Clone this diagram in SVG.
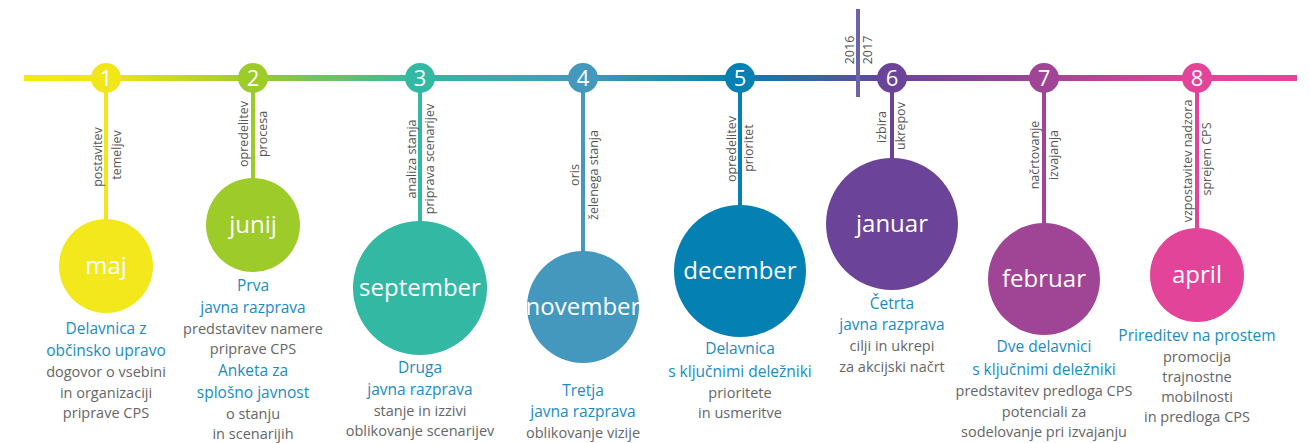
<svg xmlns="http://www.w3.org/2000/svg" width="1310" height="443" viewBox="0 0 1310 443">
<defs>
<linearGradient id="tl" gradientUnits="userSpaceOnUse" x1="24" y1="0" x2="1297" y2="0">
<stop offset="0" stop-color="#f5ea10"/>
<stop offset="0.064" stop-color="#f0e61a"/>
<stop offset="0.179" stop-color="#9ccb2a"/>
<stop offset="0.311" stop-color="#33b8a3"/>
<stop offset="0.439" stop-color="#4498bd"/>
<stop offset="0.563" stop-color="#0580b3"/>
<stop offset="0.682" stop-color="#6b4499"/>
<stop offset="0.801" stop-color="#a04595"/>
<stop offset="0.921" stop-color="#e2449a"/>
<stop offset="1" stop-color="#e8439a"/>
</linearGradient>
<style>
text{font-family:"Open Sans","Liberation Sans",sans-serif}
.num{font-size:22px;fill:#fff;text-anchor:middle}
.mon{font-size:24px;fill:#fff;text-anchor:middle}
.lab{font-size:12.5px;fill:#555;text-anchor:middle}
.h{font-size:15.5px;fill:#1a8cc2;text-anchor:middle}
.d{font-size:14.5px;fill:#666;text-anchor:middle}
.stem{stroke-width:4;fill:none}
</style>
</defs>
<g id="connectors">
<line x1="24" y1="78" x2="1297" y2="78" stroke="url(#tl)" stroke-width="6"/>
<line x1="858" y1="9" x2="858" y2="97" stroke="#6c63a8" stroke-width="4"/>
<line class="stem" x1="106" y1="78" x2="106" y2="222" stroke="#f0e61a"/>
<line class="stem" x1="253" y1="78" x2="253" y2="180" stroke="#9ccb2a"/>
<line class="stem" x1="420" y1="78" x2="420" y2="224" stroke="#33b8a3"/>
<line class="stem" x1="583" y1="78" x2="583" y2="254" stroke="#4498bd"/>
<line class="stem" x1="740" y1="78" x2="740" y2="207" stroke="#0580b3"/>
<line class="stem" x1="892" y1="78" x2="892" y2="160" stroke="#6b4499"/>
<line class="stem" x1="1044" y1="78" x2="1044" y2="225" stroke="#a04595"/>
<line class="stem" x1="1197" y1="78" x2="1197" y2="230" stroke="#e2449a"/>
</g>
<g id="year">
<text class="lab" transform="translate(853.5,50) rotate(-90)">2016</text>
<text class="lab" transform="translate(872,50) rotate(-90)">2017</text>
</g>
<g id="n1">
<circle cx="106" cy="78" r="15" fill="#f0e61a"/>
<text class="num" x="106" y="86">1</text>
<text class="lab" transform="translate(102,157) rotate(-90)">postavitev</text>
<text class="lab" transform="translate(121,155) rotate(-90)">temeljev</text>
<circle cx="106" cy="266" r="47" fill="#f2e81c"/>
<text class="mon" x="106" y="274">maj</text>
<text class="h" x="106" y="334">Delavnica z</text>
<text class="h" x="106" y="356">občinsko upravo</text>
<text class="d" x="106" y="377">dogovor o vsebini</text>
<text class="d" x="106" y="398">in organizaciji</text>
<text class="d" x="106" y="418">priprave CPS</text>
</g>
<g id="n2">
<circle cx="253" cy="78" r="15" fill="#9ccb2a"/>
<text class="num" x="253" y="86">2</text>
<text class="lab" transform="translate(248,134) rotate(-90)">opredelitev</text>
<text class="lab" transform="translate(267,134) rotate(-90)">procesa</text>
<circle cx="253" cy="225" r="47" fill="#9ccb2a"/>
<text class="mon" x="253" y="233">junij</text>
<text class="h" x="253" y="291">Prva</text>
<text class="h" x="253" y="313">javna razprava</text>
<text class="d" x="253" y="334">predstavitev namere</text>
<text class="d" x="253" y="354">priprave CPS</text>
<text class="h" x="253" y="376">Anketa za</text>
<text class="h" x="253" y="398">splošno javnost</text>
<text class="d" x="253" y="419">o stanju</text>
<text class="d" x="253" y="439">in scenarijih</text>
</g>
<g id="n3">
<circle cx="420" cy="78" r="15" fill="#33b8a3"/>
<text class="num" x="420" y="86">3</text>
<text class="lab" transform="translate(416,159) rotate(-90)">analiza stanja</text>
<text class="lab" transform="translate(434,159) rotate(-90)">priprava scenarijev</text>
<circle cx="420" cy="288" r="67" fill="#33b8a3"/>
<text class="mon" x="420" y="296">september</text>
<text class="h" x="420" y="373">Druga</text>
<text class="h" x="420" y="395">javna razprava</text>
<text class="d" x="420" y="416">stanje in izzivi</text>
<text class="d" x="420" y="436">oblikovanje scenarijev</text>
</g>
<g id="n4">
<circle cx="583" cy="78" r="15" fill="#4498bd"/>
<text class="num" x="583" y="86">4</text>
<text class="lab" transform="translate(579,175) rotate(-90)">oris</text>
<text class="lab" transform="translate(598,175) rotate(-90)">želenega stanja</text>
<circle cx="583" cy="307" r="56" fill="#4498bd"/>
<text class="mon" x="583" y="315">november</text>
<text class="h" x="583" y="396">Tretja</text>
<text class="h" x="583" y="417">javna razprava</text>
<text class="d" x="583" y="438">oblikovanje vizije</text>
</g>
<g id="n5">
<circle cx="740" cy="78" r="15" fill="#0580b3"/>
<text class="num" x="740" y="86">5</text>
<text class="lab" transform="translate(736,149) rotate(-90)">opredelitev</text>
<text class="lab" transform="translate(753,148) rotate(-90)">prioritet</text>
<circle cx="740" cy="271" r="66" fill="#0580b3"/>
<text class="mon" x="740" y="279">december</text>
<text class="h" x="740" y="354">Delavnica</text>
<text class="h" x="740" y="377">s ključnimi deležniki</text>
<text class="d" x="740" y="398">prioritete</text>
<text class="d" x="740" y="418">in usmeritve</text>
</g>
<g id="n6">
<circle cx="892" cy="78" r="15" fill="#6b4499"/>
<text class="num" x="892" y="86">6</text>
<text class="lab" transform="translate(886,127) rotate(-90)">izbira</text>
<text class="lab" transform="translate(905,126) rotate(-90)">ukrepov</text>
<circle cx="892" cy="224" r="66" fill="#6b4499"/>
<text class="mon" x="892" y="232">januar</text>
<text class="h" x="892" y="309">Četrta</text>
<text class="h" x="892" y="330">javna razprava</text>
<text class="d" x="892" y="351">cilji in ukrepi</text>
<text class="d" x="892" y="372">za akcijski načrt</text>
</g>
<g id="n7">
<circle cx="1044" cy="78" r="15" fill="#a04595"/>
<text class="num" x="1044" y="86">7</text>
<text class="lab" transform="translate(1039,155) rotate(-90)">načrtovanje</text>
<text class="lab" transform="translate(1058,155) rotate(-90)">izvajanja</text>
<circle cx="1044" cy="279" r="56" fill="#a04595"/>
<text class="mon" x="1044" y="287">februar</text>
<text class="h" x="1044" y="352">Dve delavnici</text>
<text class="h" x="1044" y="375">s ključnimi deležniki</text>
<text class="d" x="1044" y="396">predstavitev predloga CPS</text>
<text class="d" x="1044" y="417">potenciali za</text>
<text class="d" x="1044" y="437">sodelovanje pri izvajanju</text>
</g>
<g id="n8">
<circle cx="1197" cy="78" r="15" fill="#e2449a"/>
<text class="num" x="1197" y="86">8</text>
<text class="lab" transform="translate(1192,161) rotate(-90)">vzpostavitev nadzora</text>
<text class="lab" transform="translate(1211,159) rotate(-90)">sprejem CPS</text>
<circle cx="1197" cy="275" r="47" fill="#e2449a"/>
<text class="mon" x="1197" y="283">april</text>
<text class="h" x="1197" y="341">Prireditev na prostem</text>
<text class="d" x="1197" y="362">promocija</text>
<text class="d" x="1197" y="382">trajnostne</text>
<text class="d" x="1197" y="402">mobilnosti</text>
<text class="d" x="1197" y="422">in predloga CPS</text>
</g>
</svg>
